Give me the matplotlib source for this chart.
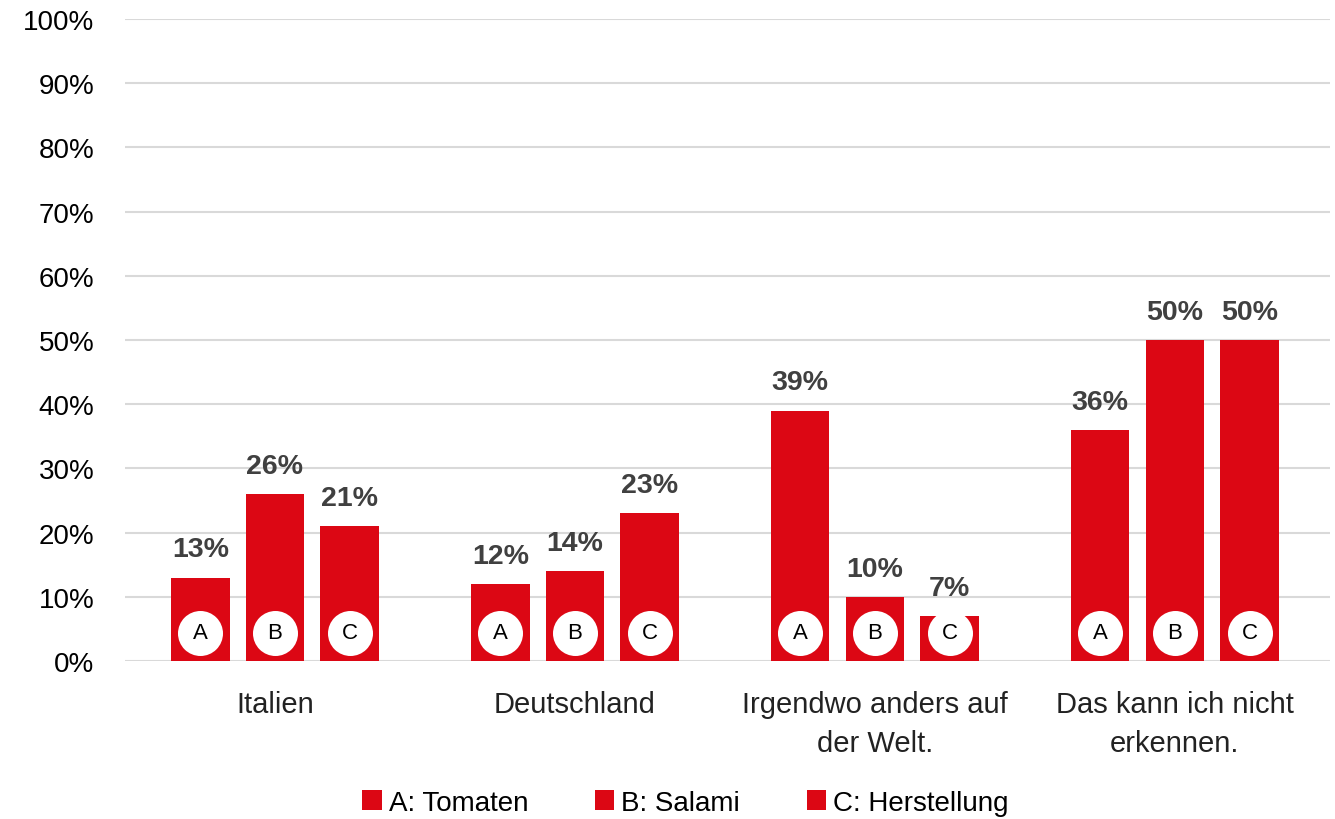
import numpy as np
import matplotlib.pyplot as plt

categories = ["Italien", "Deutschland", "Irgendwo anders auf\nder Welt.", "Das kann ich nicht\nerkennen."]
series = ["A: Tomaten", "B: Salami", "C: Herstellung"]
letters = ["A", "B", "C"]
values = [
    [13, 12, 39, 36],  # A
    [26, 14, 10, 50],  # B
    [21, 23, 7, 50],   # C
]

red = "#DC0714"
plt.rcParams['font.family'] = ['Liberation Sans', 'DejaVu Sans']

fig = plt.figure(figsize=(13.35, 8.2), dpi=100)
ax = fig.add_axes([125/1335, 158/820, 1205/1335, 642/820])

x = np.arange(len(categories))
w = 0.195
step = 0.249
for i, vals in enumerate(values):
    xs = x + (i - 1) * step
    ax.bar(xs, vals, width=w, color=red, label=series[i], zorder=2)
    for xi, v in zip(xs, vals):
        ax.annotate("%d%%" % v, (xi, v), xytext=(0, 11), textcoords="offset points",
                    ha="center", va="bottom", fontsize=20.5, fontweight="bold", color="#404040")
        ax.scatter([xi], [4.4], s=1050, color="white", zorder=3, linewidths=0)
        ax.text(xi, 4.4, letters[i], ha="center", va="center", fontsize=16, color="black", zorder=4)

ax.set_xlim(-0.5, 3.517)
ax.set_ylim(0, 100)
ax.set_yticks(range(0, 101, 10))
ax.set_yticklabels(["%d%%" % t for t in range(0, 101, 10)], fontsize=20)
ax.set_xticks(x)
ax.set_xticklabels(categories, fontsize=21, color="#222222", linespacing=1.5)
ax.tick_params(axis="both", length=0)
ax.tick_params(axis="y", pad=22)
ax.tick_params(axis="x", pad=21)
ax.grid(axis="y", color="#D9D9D9", linewidth=1.5, zorder=0)
for s in ax.spines.values():
    s.set_visible(False)

leg = ax.legend(loc="center", bbox_to_anchor=(0.465, -0.221), ncol=3, frameon=False,
                handlelength=0.7, handleheight=0.7, handletextpad=0.25, columnspacing=2.4,
                prop={'size': 20})

fig.savefig("out.png", dpi=100)
